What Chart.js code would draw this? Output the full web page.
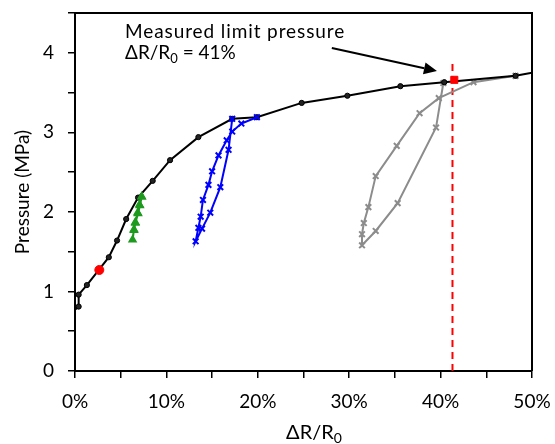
<!DOCTYPE html>
<html><head><meta charset="utf-8">
<script src="https://cdn.jsdelivr.net/npm/chart.js@4.4.1/dist/chart.umd.min.js"></script>
<style>html,body{margin:0;padding:0;background:#fff}#wrap{width:555px;height:444px;position:relative}</style>
</head><body><div id="wrap"><canvas id="c" width="555" height="444"></canvas></div>
<script>
// ---- data (ΔR/R0 in %, pressure in MPa) ----
const loadX = [0, 0.4, 0.4, 1.3, 3.7, 4.6, 5.6, 6.9, 8.5, 10.4, 13.5, 17.2, 19.9, 24.8, 29.8, 35.6, 40.4, 48.2, 50];
const loadY = [0.77, 0.81, 0.96, 1.08, 1.43, 1.64, 1.91, 2.18, 2.39, 2.65, 2.94, 3.17, 3.19, 3.37, 3.46, 3.58, 3.63, 3.71, 3.75];
const greenX = [7.3, 7.1, 6.9, 6.6, 6.45, 6.3, 6.45, 6.6, 6.85, 7.05, 7.3];
const greenY = [2.19, 2.08, 1.98, 1.86, 1.77, 1.65, 1.78, 1.87, 1.99, 2.09, 2.19];
const blueX = [17.2, 16.8, 15.9, 14.8, 13.9, 13.2, 13.5, 13.75, 14.0, 14.6, 15.0, 15.7, 16.6, 17.2, 18.2, 19.9];
const blueY = [3.17, 2.78, 2.31, 1.99, 1.79, 1.63, 1.80, 1.94, 2.15, 2.34, 2.51, 2.71, 2.90, 3.01, 3.11, 3.19];
const grayX = [40.3, 39.5, 35.3, 32.9, 31.4, 31.4, 31.6, 32.1, 32.9, 35.2, 37.7, 39.8, 43.6, 48.2];
const grayY = [3.62, 3.06, 2.11, 1.76, 1.58, 1.72, 1.86, 2.06, 2.45, 2.83, 3.24, 3.43, 3.63, 3.71];
const redCircleX = [2.66], redCircleY = [1.27];
const redSquareX = [41.5], redSquareY = [3.66];
const limitX = [41.3, 41.3], limitY = [0, 3.9];
const xTickLabels = ['0%', '10%', '20%', '30%', '40%', '50%'];
const yTickLabels = ['0', '1', '2', '3', '4'];
const yTitle = 'Pressure (MPa)';
const xTitleMain = 'ΔR/R', xTitleSub = '0';
const noteLine1 = 'Measured limit pressure';
const noteLine2Main = 'ΔR/R', noteLine2Sub = '0', noteLine2Rest = ' = 41%';
const arrowFrom = [28.1, 4.06], arrowTo = [39.6, 3.77];

const pts = (xs, ys) => xs.map((x, i) => ({x: x, y: ys[i]}));
const FONT = 'Lato, "Open Sans", sans-serif';

const boxAndNotes = {
  id: 'boxAndNotes',
  afterDraw(chart) {
    const ctx = chart.ctx, sx = chart.scales.x, sy = chart.scales.y;
    const L = sx.left, R = sx.right, T = sy.top, B = sy.bottom;
    ctx.save();
    ctx.setLineDash([]);
    ctx.globalAlpha = 1;
    // top and right frame
    ctx.strokeStyle = '#000000'; ctx.lineWidth = 2;
    ctx.beginPath();
    ctx.moveTo(L - 1, T); ctx.lineTo(R, T); ctx.lineTo(R, B);
    ctx.stroke();
    // annotation text
    ctx.fillStyle = '#000';
    ctx.textBaseline = 'alphabetic';
    ctx.textAlign = 'left';
    ctx.font = '19px ' + FONT;
    if ('letterSpacing' in ctx) ctx.letterSpacing = '0.9px';
    ctx.fillText(noteLine1, 125, 38);
    if ('letterSpacing' in ctx) ctx.letterSpacing = '0px';
    let x = 125;
    ctx.fillText(noteLine2Main, x, 59);
    x += ctx.measureText(noteLine2Main).width;
    ctx.font = '13px ' + FONT;
    ctx.fillText(noteLine2Sub, x, 63);
    x += ctx.measureText(noteLine2Sub).width;
    ctx.font = '19px ' + FONT;
    ctx.fillText(noteLine2Rest, x, 59);
    // arrow
    const x1 = sx.getPixelForValue(arrowFrom[0]), y1 = sy.getPixelForValue(arrowFrom[1]);
    const x2 = sx.getPixelForValue(arrowTo[0]), y2 = sy.getPixelForValue(arrowTo[1]);
    const ang = Math.atan2(y2 - y1, x2 - x1);
    const hl = 13, hw = 6;
    const bx = x2 - hl * Math.cos(ang), by = y2 - hl * Math.sin(ang);
    ctx.lineWidth = 2;
    ctx.beginPath(); ctx.moveTo(x1, y1); ctx.lineTo(bx, by); ctx.stroke();
    ctx.beginPath();
    ctx.moveTo(x2, y2);
    ctx.lineTo(bx + hw * Math.sin(ang), by - hw * Math.cos(ang));
    ctx.lineTo(bx - hw * Math.sin(ang), by + hw * Math.cos(ang));
    ctx.closePath(); ctx.fill();
    // x axis title with subscript
    ctx.font = '20px ' + FONT;
    const wMain = ctx.measureText(xTitleMain).width;
    ctx.font = '14px ' + FONT;
    const wSub = ctx.measureText(xTitleSub).width;
    let tx = 314 - (wMain + wSub) / 2;
    ctx.font = '20px ' + FONT;
    ctx.fillText(xTitleMain, tx, 439);
    ctx.font = '14px ' + FONT;
    ctx.fillText(xTitleSub, tx + wMain, 443);
    ctx.restore();
  }
};

new Chart(document.getElementById('c'), {
  type: 'scatter',
  data: {
    datasets: [
      {data: pts(limitX, limitY), showLine: true, borderColor: '#FF0000', borderWidth: 2, borderDash: [7, 5], pointRadius: 0, order: 6},
      {data: pts(grayX, grayY), showLine: true, borderColor: '#8C8C8C', borderWidth: 2, pointStyle: 'crossRot', pointRadius: 4, pointBorderWidth: 2, pointBorderColor: '#8C8C8C', order: 5},
      {data: pts(loadX, loadY), showLine: true, borderColor: '#000', borderWidth: 2, pointStyle: 'circle',
        pointRadius: (c) => c.dataIndex === loadX.length - 1 || c.dataIndex === 0 ? 0 : 2.6,
        pointBackgroundColor: '#222', pointBorderColor: '#000', pointBorderWidth: 1, order: 4},
      {data: pts(greenX, greenY), showLine: true, borderColor: '#1E9A1E', borderWidth: 2, pointStyle: 'triangle', pointRadius: 3.5, pointBackgroundColor: '#1E9A1E', pointBorderColor: '#1E9A1E', order: 3},
      {data: pts(blueX, blueY), showLine: true, borderColor: '#0000FF', borderWidth: 2, pointStyle: 'crossRot', pointRadius: 4, pointBorderWidth: 2, pointBorderColor: '#0000FF', order: 2},
      {data: pts(redCircleX, redCircleY), pointStyle: 'circle', pointRadius: 4.5, pointBackgroundColor: '#FF0000', pointBorderColor: '#FF0000', order: 1},
      {data: pts(redSquareX, redSquareY), pointStyle: 'rect', pointRadius: 5, pointBackgroundColor: '#FF0000', pointBorderColor: '#FF0000', order: 1}
    ]
  },
  options: {
    responsive: false, animation: false, devicePixelRatio: 1,
    layout: {padding: {left: 0, right: 23, top: 13, bottom: 0}},
    plugins: {legend: {display: false}, tooltip: {enabled: false}},
    scales: {
      x: {
        type: 'linear', min: 0, max: 50,
        afterFit: (s) => { s.height = 73; s.paddingLeft = 0; s.paddingRight = 0; },
        border: {color: '#000', width: 2},
        grid: {drawOnChartArea: false, drawTicks: true, tickLength: 7, color: '#000', lineWidth: 1.5},
        ticks: {stepSize: 5, padding: 12, color: '#000', font: {family: FONT, size: 19},
          callback: (v) => (v % 10 === 0 ? xTickLabels[v / 10] : '')},
      },
      y: {
        min: 0, max: 4.5,
        afterFit: (s) => { s.width = 75; s.paddingTop = 0; s.paddingBottom = 0; },
        border: {color: '#000', width: 2},
        grid: {drawOnChartArea: false, drawTicks: true, tickLength: 7, color: '#000', lineWidth: 1.5},
        ticks: {stepSize: 0.5, padding: 14, color: '#000', font: {family: FONT, size: 19},
          callback: (v) => (Number.isInteger(v) && v < yTickLabels.length ? yTickLabels[v] : '')},
        title: {display: true, text: yTitle, color: '#000', font: {family: FONT, size: 19}, padding: {top: 11, bottom: 0}}
      }
    }
  },
  plugins: [boxAndNotes]
});
</script></body></html>
